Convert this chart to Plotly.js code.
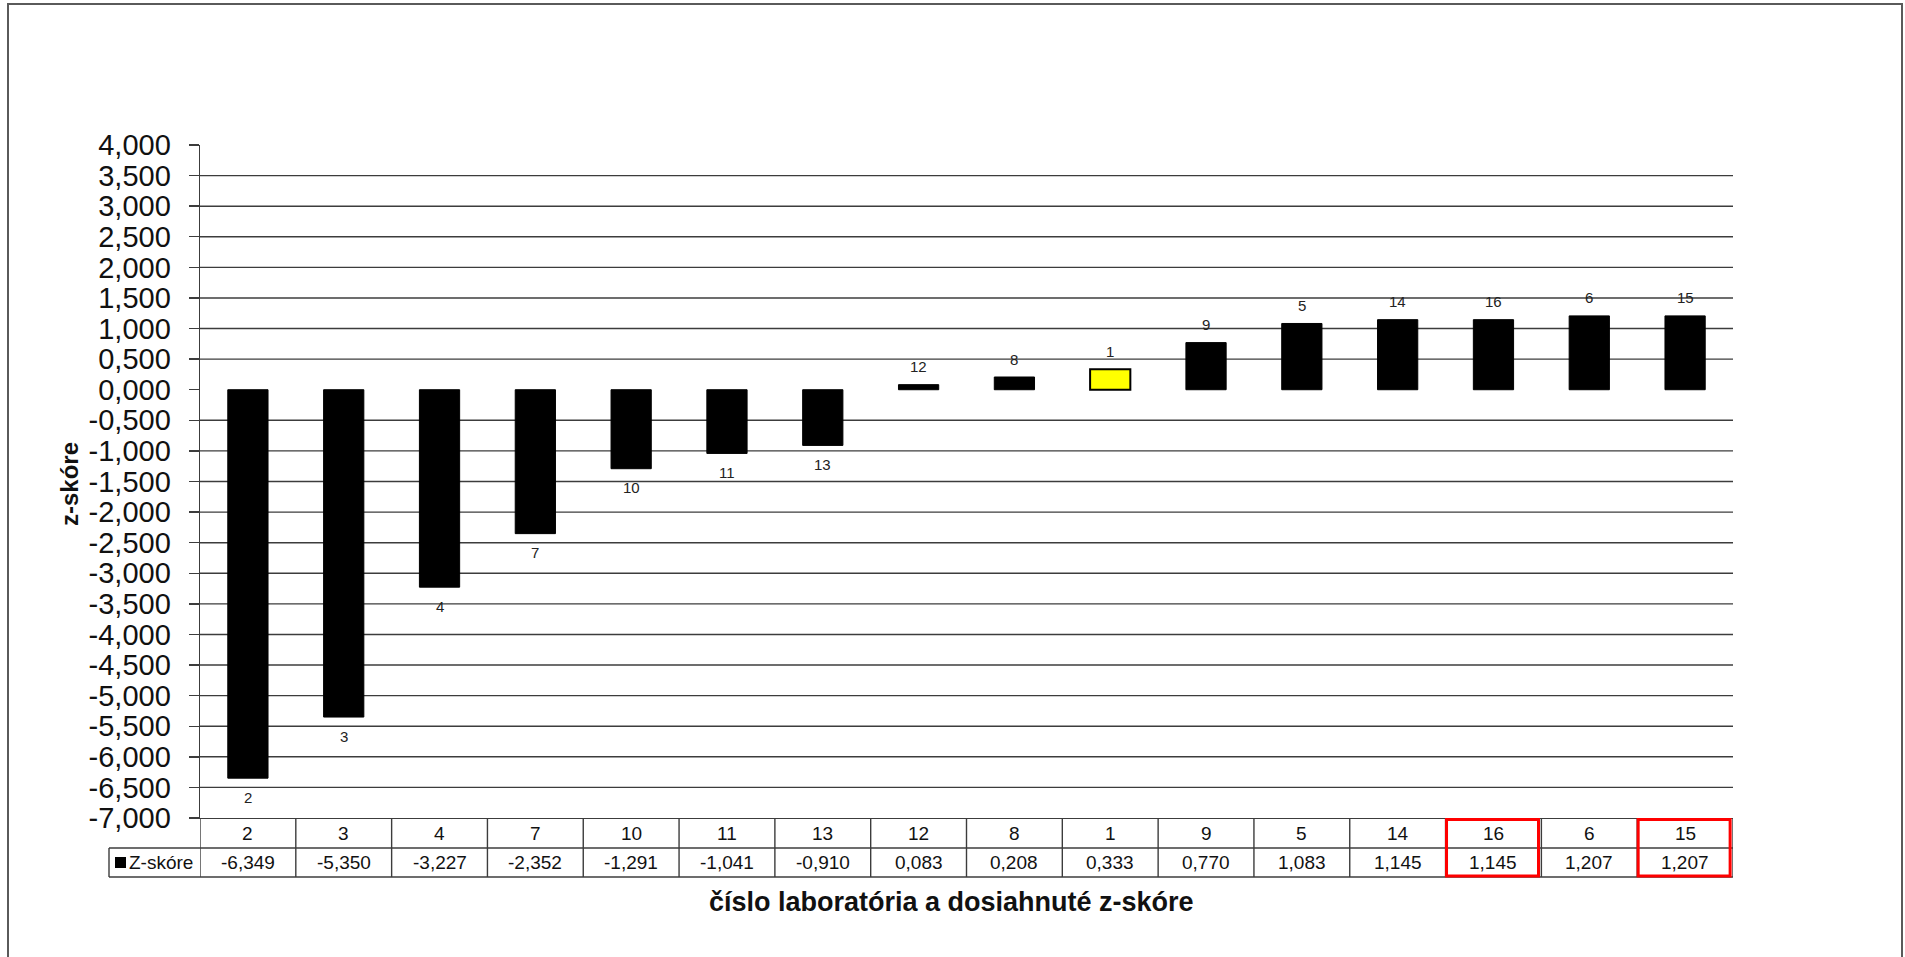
<!DOCTYPE html>
<html><head><meta charset="utf-8">
<script src="https://cdn.plot.ly/plotly-3.0.1.min.js"></script>
<style>html,body{margin:0;padding:0;background:#fff}</style>
</head><body><div id="chart" style="width:1905px;height:957px"></div>
<script>
// ---- data ----
const labs = ['2','3','4','7','10','11','13','12','8','1','9','5','14','16','6','15'];
const zScores = [-6.349,-5.350,-3.227,-2.352,-1.291,-1.041,-0.910,0.083,0.208,0.333,0.770,1.083,1.145,1.145,1.207,1.207];
const ownLab = '1';
const boxedLabs = ['16','15'];
const yTicks = [4,3.5,3,2.5,2,1.5,1,0.5,0,-0.5,-1,-1.5,-2,-2.5,-3,-3.5,-4,-4.5,-5,-5.5,-6,-6.5,-7];
const seriesName = 'Z-skóre';
const xTitle = 'číslo laboratória a dosiahnuté z-skóre';
const yTitle = 'z-skóre';

// ---- helpers ----
const FONT = '"Liberation Sans", Arial, sans-serif';
const fmt = v => v.toFixed(3).replace('.', ',');
const L = 200, T = 145, W = 1533, H = 673;
const px2x = px => (px - L) / W;
const py2y = py => (T + H - py) / H;
const GRID = '#3c3c3c';

const shapes = [];
// gridlines (none at 0 and at the top)
yTicks.filter(v => v !== 0 && v !== 4 && v !== -7).forEach(v => {
  shapes.push({type:'line', layer:'below', xref:'paper', yref:'y', x0:0, x1:1, y0:v, y1:v,
    line:{color:GRID, width:1.4}});
});
// table
const rowMid = py2y(848), rowBot = py2y(877);
shapes.push({type:'line', xref:'paper', yref:'paper', x0:px2x(109), x1:1, y0:rowMid, y1:rowMid, line:{color:GRID, width:1.4}});
shapes.push({type:'line', xref:'paper', yref:'paper', x0:px2x(109), x1:1, y0:rowBot, y1:rowBot, line:{color:GRID, width:1.6}});
shapes.push({type:'line', xref:'paper', yref:'paper', x0:px2x(109), x1:px2x(109), y0:rowMid, y1:rowBot, line:{color:GRID, width:1.4}});
for (let i = 0; i <= labs.length; i++) {
  shapes.push({type:'line', xref:'x', yref:'paper', x0:i-0.5, x1:i-0.5, y0:0, y1:rowBot, line:{color:GRID, width:1.4}});
}
// red highlight boxes
boxedLabs.forEach(lab => {
  const i = labs.indexOf(lab);
  shapes.push({type:'rect', xref:'x', yref:'paper', x0:i-0.5+0.01, x1:i+0.5-0.03,
    y0:py2y(876), y1:py2y(819.5), line:{color:'#ff0000', width:3}, fillcolor:'rgba(0,0,0,0)'});
});
// legend key square
shapes.push({type:'rect', xref:'paper', yref:'paper', x0:px2x(115), x1:px2x(126), y0:py2y(868), y1:py2y(857),
  line:{color:'#000', width:0}, fillcolor:'#000'});
// outer border
shapes.push({type:'rect', xref:'paper', yref:'paper', x0:px2x(8), x1:px2x(1902), y0:py2y(965), y1:py2y(4),
  line:{color:'#5a5a5a', width:2}, fillcolor:'rgba(0,0,0,0)'});

const annotations = [];
// data labels (lab numbers) and table cells, placed by category index
labs.forEach((lab, i) => {
  const v = zScores[i];
  annotations.push({x:i, y:v, xref:'x', yref:'y', text:lab, showarrow:false,
    yanchor:'middle', yshift: v >= 0 ? 18 : -19, font:{family:FONT, size:15, color:'#222'}});
  annotations.push({x:i, y:py2y(833), xref:'x', yref:'paper', text:lab, showarrow:false,
    yanchor:'middle', font:{family:FONT, size:19, color:'#111'}});
  annotations.push({x:i, y:py2y(862.5), xref:'x', yref:'paper', text:fmt(v), showarrow:false,
    yanchor:'middle', font:{family:FONT, size:19, color:'#111'}});
});
annotations.push({x:px2x(127), y:py2y(862.5), xref:'paper', yref:'paper', text:seriesName, showarrow:false,
  xanchor:'left', yanchor:'middle', font:{family:FONT, size:19, color:'#111'}});
annotations.push({x:px2x(951), y:py2y(902), xref:'paper', yref:'paper', text:'<b>'+xTitle+'</b>', showarrow:false,
  xanchor:'center', yanchor:'middle', font:{family:FONT, size:27, color:'#111'}});
annotations.push({x:px2x(69), y:py2y(484), xref:'paper', yref:'paper', text:'<b>'+yTitle+'</b>', showarrow:false,
  textangle:-90, xanchor:'center', yanchor:'middle', font:{family:FONT, size:24, color:'#111'}});

const trace = {
  type:'bar', x:labs, y:zScores, name:seriesName, width:0.42,
  marker:{color: labs.map(l => l === ownLab ? '#ffff00' : '#000000'),
          line:{color:'#000', width: labs.map(l => l === ownLab ? 2 : 1)}},
  hoverinfo:'x+y'
};

const layout = {
  width:1905, height:957,
  margin:{l:L, r:1905-L-W, t:T, b:957-T-H, pad:0},
  paper_bgcolor:'#fff', plot_bgcolor:'#fff',
  showlegend:false,
  font:{family:FONT, color:'#111'},
  xaxis:{type:'category', categoryorder:'array', categoryarray:labs, range:[-0.5, labs.length-0.5],
    showticklabels:false, ticks:'', showgrid:false, zeroline:false, showline:true, linecolor:GRID, linewidth:1.4, fixedrange:true},
  yaxis:{range:[-7,4], tickvals:yTicks, ticktext:yTicks.map(fmt), ticks:'outside', ticklen:10,
    tickcolor:GRID, tickwidth:1.4, showgrid:false, zeroline:false, showline:true, linecolor:GRID, linewidth:1.4,
    tickfont:{family:FONT, size:29, color:'#111'}, ticklabelstandoff:12, fixedrange:true},
  shapes, annotations
};

Plotly.newPlot('chart', [trace], layout, {displayModeBar:false, staticPlot:true});
</script></body></html>
